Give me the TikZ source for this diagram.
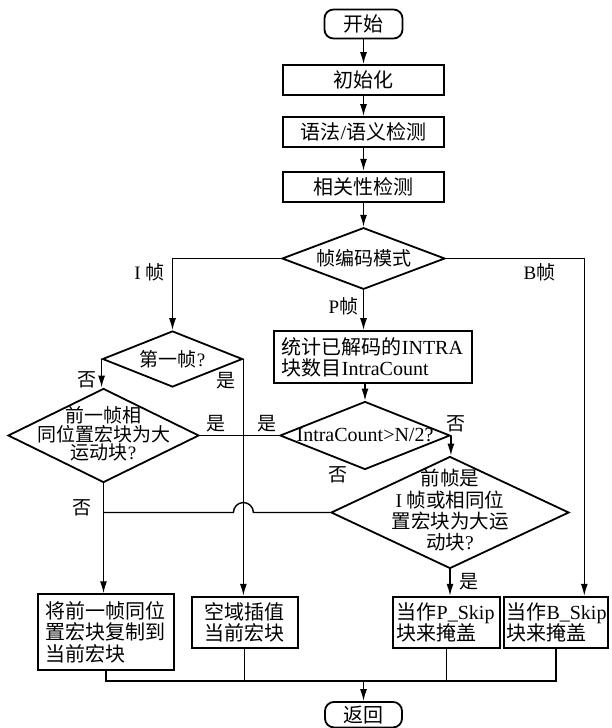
\documentclass[tikz,border=0pt]{standalone}
\usepackage{fontspec}
\setmainfont{Liberation Serif}
\newfontfamily\cjk{Noto Sans CJK SC}
\usetikzlibrary{shapes.geometric,arrows.meta,calc}
\begin{document}
\begin{tikzpicture}[x=1pt,y=-1pt,
  box/.style={draw, line width=1.8pt, inner ysep=0pt, align=left, font=\fontsize{20}{21.5}\selectfont},
  term/.style={draw, line width=1.8pt, rounded corners=9pt, inner sep=0pt, font=\fontsize{20}{21.5}\selectfont},
  dia/.style={draw, diamond, line width=1.8pt, inner sep=0pt},
  dtext/.style={inner sep=0pt, align=center},
  conn/.style={line width=1.4pt},
  arr/.style={conn, -{Latex[length=12pt,width=7pt]}},
  lab/.style={font=\fontsize{19}{20}\selectfont, inner sep=0pt}]
\fill[white] (0,0) rectangle (611,728);
\useasboundingbox (0,0) rectangle (611,728);

% main column
\node[term, minimum width=78pt, minimum height=29pt] (start) at (363.5,24) {\cjk 开始};
\node[box, minimum width=161pt, minimum height=30pt, align=center] (init) at (363.5,80) {\cjk 初始化};
\node[box, minimum width=161pt, minimum height=30pt, align=center] (syn) at (363.5,132) {{\cjk 语法}/{\cjk 语义检测}};
\node[box, minimum width=161pt, minimum height=30pt, align=center] (corr) at (363.5,186.7) {\cjk 相关性检测};

\node[dia, minimum width=163pt, minimum height=61.6pt] (mode) at (363.5,258.5) {};
\node[dtext, font=\fontsize{19}{19}\selectfont] (mode-t) at (mode.center) {\cjk 帧编码模式};

\node[box, text width=182pt, inner xsep=8pt, minimum height=52.3pt] (stat) at (372.9,357.2)
  {{\cjk 统计已解码的}INTRA\\{\cjk 块数目}IntraCount};

\node[dia, minimum width=170pt, minimum height=68pt] (intra) at (365,435.5) {};
\node[dtext, font=\fontsize{20}{20}\selectfont] (intra-t) at (intra.center) {IntraCount>N/2?};

\node[dia, minimum width=238pt, minimum height=112pt] (prevI) at (450,512.5) {};
\node[dtext, font=\fontsize{19.5}{21.3}\selectfont] (prevI-t) at ([yshift=2pt]prevI.center)
  {{\cjk 前帧是}\\I {\cjk 帧或相同位}\\{\cjk 置宏块为大运}\\{\cjk 动块}?};

% left branch
\node[dia, minimum width=140pt, minimum height=56pt] (first) at (172.5,359) {};
\node[dtext, font=\fontsize{19}{19}\selectfont] (first-t) at (first.center) {{\cjk 第一帧}?};

\node[dia, minimum width=191pt, minimum height=94pt] (prev) at (103.5,435.5) {};
\node[dtext, font=\fontsize{19}{18.5}\selectfont] (prev-t) at ([yshift=1.5pt]prev.center)
  {{\cjk 前一帧相}\\{\cjk 同位置宏块为大}\\{\cjk 运动块}?};

% bottom boxes
\node[box, text width=121pt, inner xsep=7.65pt, minimum height=75.7pt] (copy) at (105.8,632)
  {\cjk 将前一帧同位\\置宏块复制到\\当前宏块};
\node[box, text width=81pt, inner xsep=12.5pt, minimum height=51.6pt] (interp) at (244.7,622.5)
  {\cjk 空域插值\\当前宏块};
\node[box, text width=100pt, inner xsep=3.35pt, minimum height=51.6pt] (pskip) at (446.7,622.5)
  {{\cjk 当作}P\_Skip\\{\cjk 块来掩盖}};
\node[box, text width=99pt, inner xsep=2.5pt, minimum height=51.6pt] (bskip) at (556,622.5)
  {{\cjk 当作}B\_Skip\\{\cjk 块来掩盖}};

\node[term, minimum width=77pt, minimum height=25.5pt] (ret) at (363.5,714.7) {\cjk 返回};
\coordinate (merge) at (363.5,681);

% connectors
\draw[arr] (start) -- (init);
\draw[arr] (init) -- (syn);
\draw[arr] (syn) -- (corr);
\draw[arr] (corr) -- (mode);
\draw[arr] (mode.west) -| (first.north);
\draw[arr] (mode.east) -| ([xshift=28.3pt]bskip.north);
\draw[arr] (mode.south) -- (mode.south |- stat.north);
\draw[arr] (intra.north |- stat.south) -- (intra.north);
\draw[arr] (first.west) -- (first.west |- prev.north);
\draw[arr] (first.east) -- (first.east |- interp.north);
\draw[conn] (prev.east) -- (intra.west);
\draw[arr] (intra.east) -- (intra.east |- prevI.north);
\draw[arr] (prev.south) -- (prev.south |- copy.north);
\draw[conn] (prevI.west) -- ($(first.east |- prevI.west)+(10,0)$)
  arc[start angle=0, end angle=-180, radius=10] -- (prev.south |- prevI.west);
\draw[arr] (prevI.south) -- (prevI.south |- pskip.north);
\draw[conn] (copy.south) -- (copy.south |- merge) -- (bskip.south |- merge) -- (bskip.south);
\draw[conn] (interp.south) -- (interp.south |- merge);
\draw[conn] (pskip.south) -- (pskip.south |- merge);
\draw[arr] (merge) -- (ret.north);

% labels
\node[lab] (l-i) at (149.5,272.5) {I {\cjk 帧}};
\node[lab] (l-b) at (539.5,272.5) {B{\cjk 帧}};
\node[lab] (l-p) at (343.4,306.5) {P{\cjk 帧}};
\node[lab] (l-f-no) at (86.7,380) {\cjk 否};
\node[lab] (l-f-yes) at (226,381) {\cjk 是};
\node[lab] (l-p-yes) at (216,423.3) {\cjk 是};
\node[lab] (l-i-yes) at (266.7,423.3) {\cjk 是};
\node[lab] (l-i-no) at (455.7,424) {\cjk 否};
\node[lab] (l-pi-no) at (338.3,475) {\cjk 否};
\node[lab] (l-p-no) at (82,507.5) {\cjk 否};
\node[lab] (l-pi-yes) at (469.3,581.7) {\cjk 是};
\end{tikzpicture}
\end{document}
